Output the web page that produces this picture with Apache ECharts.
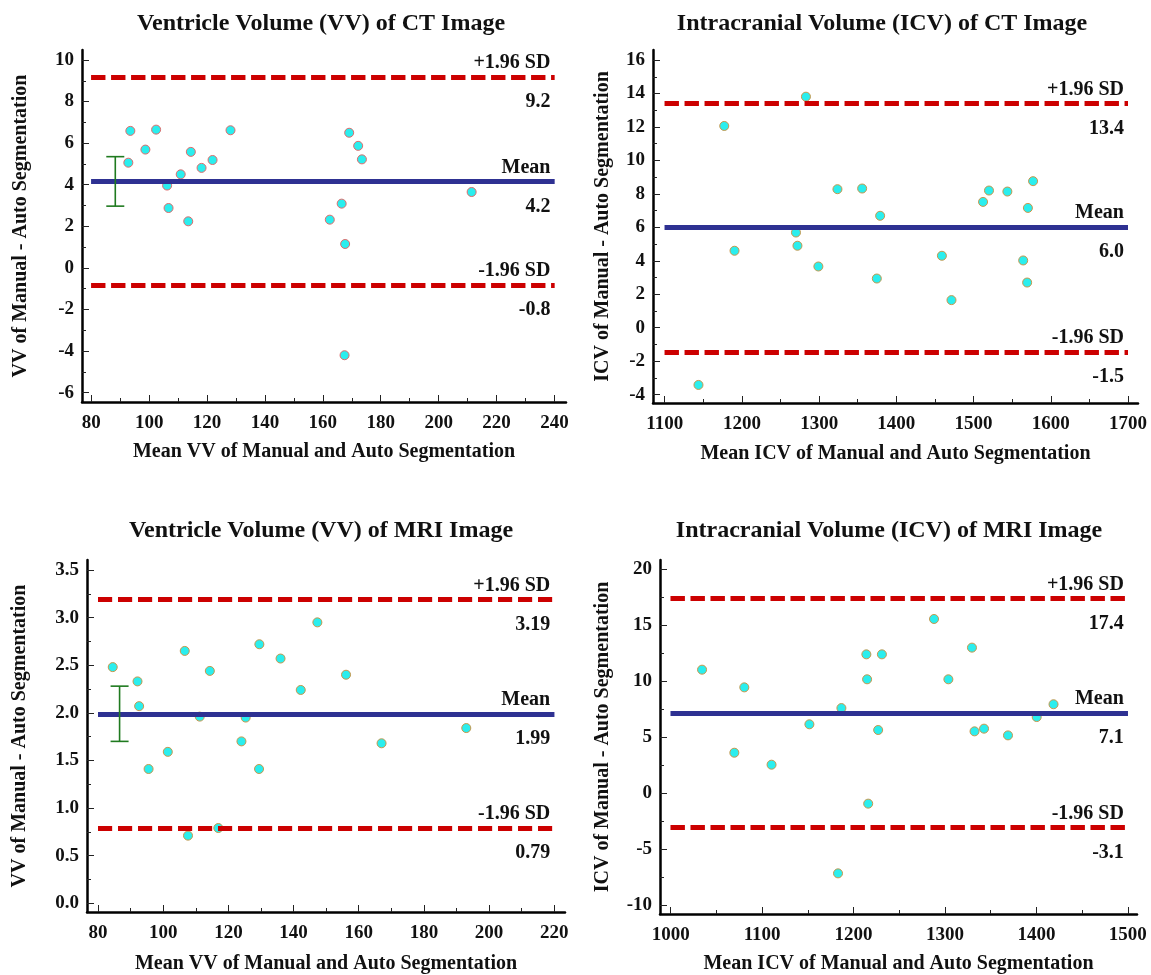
<!DOCTYPE html>
<html>
<head>
<meta charset="utf-8">
<script src="https://cdn.jsdelivr.net/npm/echarts@6/dist/echarts.min.js"></script>
<style>
  html, body { margin: 0; padding: 0; background: #fff; }
  #chart { width: 1151px; height: 975px; }
</style>
</head>
<body>
<div id="chart"></div>
<script>
// ---- Ventricle Volume, CT ----
const vvCtMean = [92.8, 93.5, 98.7, 102.4, 106.2, 106.7, 110.9, 113.5, 114.4, 118.1, 121.9, 128.1, 162.4, 166.5, 167.5, 167.7, 169.1, 172.2, 173.5, 211.4];
const vvCtDiff = [5.06, 6.59, 5.69, 6.65, 3.96, 2.88, 4.50, 2.24, 5.58, 4.81, 5.19, 6.62, 2.32, 3.09, -4.20, 1.15, 6.50, 5.87, 5.22, 3.65];
const vvCtLimits = [9.17, 4.15, -0.82];
const vvCtLimitText = ['9.2', '4.2', '-0.8'];
const vvCtCI = [88.3, 2.97, 5.35];
const vvCtXTicks = [80, 100, 120, 140, 160, 180, 200, 220, 240];
const vvCtYTicks = [-6, -4, -2, 0, 2, 4, 6, 8, 10];

// ---- Intracranial Volume, CT ----
const icvCtMean = [1143.7, 1177.1, 1190.4, 1270.0, 1271.9, 1282.9, 1299.0, 1323.7, 1355.7, 1374.7, 1379.0, 1459.0, 1471.4, 1512.3, 1520.0, 1543.8, 1564.3, 1569.4, 1570.4, 1577.1];
const icvCtDiff = [-3.42, 12.06, 4.60, 5.69, 4.90, 13.81, 3.66, 8.28, 8.32, 2.94, 6.69, 4.30, 1.65, 7.52, 8.20, 8.14, 4.02, 2.70, 7.16, 8.76];
const icvCtLimits = [13.41, 6.01, -1.45];
const icvCtLimitText = ['13.4', '6.0', '-1.5'];
const icvCtXTicks = [1100, 1200, 1300, 1400, 1500, 1600, 1700];
const icvCtYTicks = [-4, -2, 0, 2, 4, 6, 8, 10, 12, 14, 16];

// ---- Ventricle Volume, MRI ----
const vvMriMean = [84.5, 92.1, 92.6, 95.5, 101.4, 106.6, 107.6, 111.2, 114.3, 116.9, 124.0, 125.3, 129.4, 129.5, 136.0, 142.2, 147.3, 156.1, 167.0, 193.0];
const vvMriDiff = [2.48, 2.33, 2.07, 1.41, 1.59, 2.65, 0.71, 1.96, 2.44, 0.79, 1.70, 1.95, 1.41, 2.72, 2.57, 2.24, 2.95, 2.40, 1.68, 1.84];
const vvMriLimits = [3.19, 1.99, 0.79];
const vvMriLimitText = ['3.19', '1.99', '0.79'];
const vvMriCI = [86.6, 1.70, 2.28];
const vvMriXTicks = [80, 100, 120, 140, 160, 180, 200, 220];
const vvMriYTicks = [0, 0.5, 1, 1.5, 2, 2.5, 3, 3.5];

// ---- Intracranial Volume, MRI ----
const icvMriMean = [1034.3, 1069.6, 1080.5, 1110.3, 1151.7, 1183.0, 1186.7, 1214.0, 1214.8, 1216.0, 1226.9, 1231.0, 1288.0, 1303.7, 1329.5, 1332.3, 1342.7, 1368.9, 1400.3, 1418.7];
const icvMriDiff = [11.03, 3.61, 9.45, 2.54, 6.15, -7.17, 7.60, 12.40, 10.17, -0.94, 5.64, 12.40, 15.56, 10.17, 13.00, 5.52, 5.76, 5.16, 6.80, 7.94];
const icvMriLimits = [17.37, 7.15, -3.06];
const icvMriLimitText = ['17.4', '7.1', '-3.1'];
const icvMriXTicks = [1000, 1100, 1200, 1300, 1400, 1500];
const icvMriYTicks = [-10, -5, 0, 5, 10, 15, 20];

const limitNames = ['+1.96 SD', 'Mean', '-1.96 SD'];

const FONT = 'Liberation Serif';
const panels = [
  {
    title: 'Ventricle Volume (VV) of CT Image', titleX: 316, titleY: 7,
    grid: { left: 82, top: 50, width: 484, height: 352 },
    xMin: 76.8, xMax: 244, yMin: -6.45, yMax: 10.48,
    xTicks: vvCtXTicks, yTicks: vvCtYTicks, yDigits: 0,
    xName: 'Mean VV of Manual and Auto Segmentation', yName: 'VV of Manual - Auto Segmentation',
    xGap: 40, yGap: 51,
    mean: vvCtMean, diff: vvCtDiff, limits: vvCtLimits, limitText: vvCtLimitText, ci: vvCtCI,
    border: '#e06a6a'
  },
  {
    title: 'Intracranial Volume (ICV) of CT Image', titleX: 877, titleY: 7,
    grid: { left: 653, top: 50, width: 485, height: 353 },
    xMin: 1084.8, xMax: 1713, yMin: -4.5, yMax: 16.6,
    xTicks: icvCtXTicks, yTicks: icvCtYTicks, yDigits: 0,
    xName: 'Mean ICV of Manual and Auto Segmentation', yName: 'ICV of Manual - Auto Segmentation',
    xGap: 41, yGap: 40,
    mean: icvCtMean, diff: icvCtDiff, limits: icvCtLimits, limitText: icvCtLimitText, ci: null,
    border: '#c8964a'
  },
  {
    title: 'Ventricle Volume (VV) of MRI Image', titleX: 316, titleY: 514,
    grid: { left: 87, top: 560, width: 478, height: 352 },
    xMin: 76.6, xMax: 223.3, yMin: -0.092, yMax: 3.605,
    xTicks: vvMriXTicks, yTicks: vvMriYTicks, yDigits: 1,
    xName: 'Mean VV of Manual and Auto Segmentation', yName: 'VV of Manual - Auto Segmentation',
    xGap: 42, yGap: 57,
    mean: vvMriMean, diff: vvMriDiff, limits: vvMriLimits, limitText: vvMriLimitText, ci: vvMriCI,
    border: '#c8964a'
  },
  {
    title: 'Intracranial Volume (ICV) of MRI Image', titleX: 884, titleY: 514,
    grid: { left: 660, top: 560, width: 477, height: 354 },
    xMin: 988.3, xMax: 1510, yMin: -10.8, yMax: 20.83,
    xTicks: icvMriXTicks, yTicks: icvMriYTicks, yDigits: 0,
    xName: 'Mean ICV of Manual and Auto Segmentation', yName: 'ICV of Manual - Auto Segmentation',
    xGap: 40, yGap: 47,
    mean: icvMriMean, diff: icvMriDiff, limits: icvMriLimits, limitText: icvMriLimitText, ci: null,
    border: '#c8964a'
  }
];

// midpoints between major ticks -> minor ticks
function minorOf(ticks) {
  const out = [];
  for (let i = 0; i < ticks.length - 1; i++) out.push((ticks[i] + ticks[i + 1]) / 2);
  return out;
}

const option = {
  animation: false,
  backgroundColor: '#fff',
  title: [], grid: [], xAxis: [], yAxis: [], series: []
};

panels.forEach((p, i) => {
  option.title.push({
    text: p.title, left: p.titleX, top: p.titleY, textAlign: 'center',
    textStyle: { fontFamily: FONT, fontWeight: 'bold', fontSize: 24, color: '#111' }
  });
  option.grid.push(Object.assign({ containLabel: false }, p.grid));

  const axisLine = { show: true, onZero: false, lineStyle: { color: '#000', width: 2.5 } };
  const labelStyle = { fontFamily: FONT, fontWeight: 'bold', fontSize: 19, color: '#111' };
  const nameStyle = { fontFamily: FONT, fontWeight: 'bold', fontSize: 20, color: '#111' };
  const tickLine = { color: '#222', width: 1 };

  // main x axis + minor-tick axis
  option.xAxis.push({
    gridIndex: i, type: 'value', position: 'bottom', min: p.xMin, max: p.xMax,
    axisLine: axisLine,
    axisTick: { show: true, inside: true, length: 7, customValues: p.xTicks, lineStyle: tickLine },
    axisLabel: Object.assign({ customValues: p.xTicks, margin: 12, formatter: v => String(v) }, labelStyle),
    splitLine: { show: false },
    name: p.xName, nameLocation: 'middle', nameGap: p.xGap, nameTextStyle: nameStyle
  });
  option.xAxis.push({
    gridIndex: i, type: 'value', position: 'bottom', min: p.xMin, max: p.xMax,
    axisLine: { show: false, onZero: false },
    axisTick: { show: true, inside: true, length: 4, customValues: minorOf(p.xTicks), lineStyle: tickLine },
    axisLabel: { show: false }, splitLine: { show: false }
  });
  option.yAxis.push({
    gridIndex: i, type: 'value', position: 'left', min: p.yMin, max: p.yMax,
    axisLine: axisLine,
    axisTick: { show: true, inside: true, length: 7, customValues: p.yTicks, lineStyle: tickLine },
    axisLabel: Object.assign({ customValues: p.yTicks, margin: 8, formatter: v => v.toFixed(p.yDigits) }, labelStyle),
    splitLine: { show: false },
    name: p.yName, nameLocation: 'middle', nameGap: p.yGap, nameRotate: 90, nameTextStyle: nameStyle
  });
  option.yAxis.push({
    gridIndex: i, type: 'value', position: 'left', min: p.yMin, max: p.yMax,
    axisLine: { show: false, onZero: false },
    axisTick: { show: true, inside: true, length: 4, customValues: minorOf(p.yTicks), lineStyle: tickLine },
    axisLabel: { show: false }, splitLine: { show: false }
  });

  const xi = i * 2, yi = i * 2;
  const x0 = p.xTicks[0], x1 = p.xTicks[p.xTicks.length - 1];

  option.series.push({
    type: 'scatter', xAxisIndex: xi, yAxisIndex: yi, z: 2,
    data: p.mean.map((m, k) => [m, p.diff[k]]),
    symbol: 'circle', symbolSize: 9,
    itemStyle: { color: '#2aeeee', borderColor: p.border, borderWidth: 1, opacity: 1 }
  });

  // limit lines: each drawn twice, one carrying the top label, one the bottom label
  const lineData = [];
  p.limits.forEach((v, k) => {
    const ls = k === 1
      ? { color: '#2e3192', width: 5, type: 'solid' }
      : { color: '#cc0000', width: 5, type: [14, 6] };
    const lbl = { fontFamily: FONT, fontWeight: 'bold', fontSize: 20, color: '#111' };
    lineData.push([
      { coord: [x0, v], lineStyle: ls, label: Object.assign({ show: true, position: 'insideEndTop', formatter: limitNames[k], distance: [4, 4] }, lbl) },
      { coord: [x1, v] }
    ]);
    lineData.push([
      { coord: [x0, v], lineStyle: ls, label: Object.assign({ show: true, position: 'insideEndBottom', formatter: p.limitText[k], distance: [4, 15] }, lbl) },
      { coord: [x1, v] }
    ]);
  });
  option.series.push({
    type: 'scatter', xAxisIndex: xi, yAxisIndex: yi, z: 4, data: [],
    markLine: { silent: true, symbol: 'none', animation: false, data: lineData }
  });

  if (p.ci) {
    option.series.push({
      type: 'custom', xAxisIndex: xi, yAxisIndex: yi, z: 6,
      data: [p.ci], encode: { x: 0, y: [1, 2] },
      renderItem: function (params, api) {
        const lo = api.coord([api.value(0), api.value(1)]);
        const hi = api.coord([api.value(0), api.value(2)]);
        const w = 9;
        const style = { stroke: '#1f7a1f', lineWidth: 1.6 };
        return {
          type: 'group',
          children: [
            { type: 'line', shape: { x1: hi[0], y1: hi[1], x2: lo[0], y2: lo[1] }, style: style },
            { type: 'line', shape: { x1: hi[0] - w, y1: hi[1], x2: hi[0] + w, y2: hi[1] }, style: style },
            { type: 'line', shape: { x1: lo[0] - w, y1: lo[1], x2: lo[0] + w, y2: lo[1] }, style: style }
          ]
        };
      }
    });
  }
});

const chart = echarts.init(document.getElementById('chart'));
chart.setOption(option);
</script>
</body>
</html>
